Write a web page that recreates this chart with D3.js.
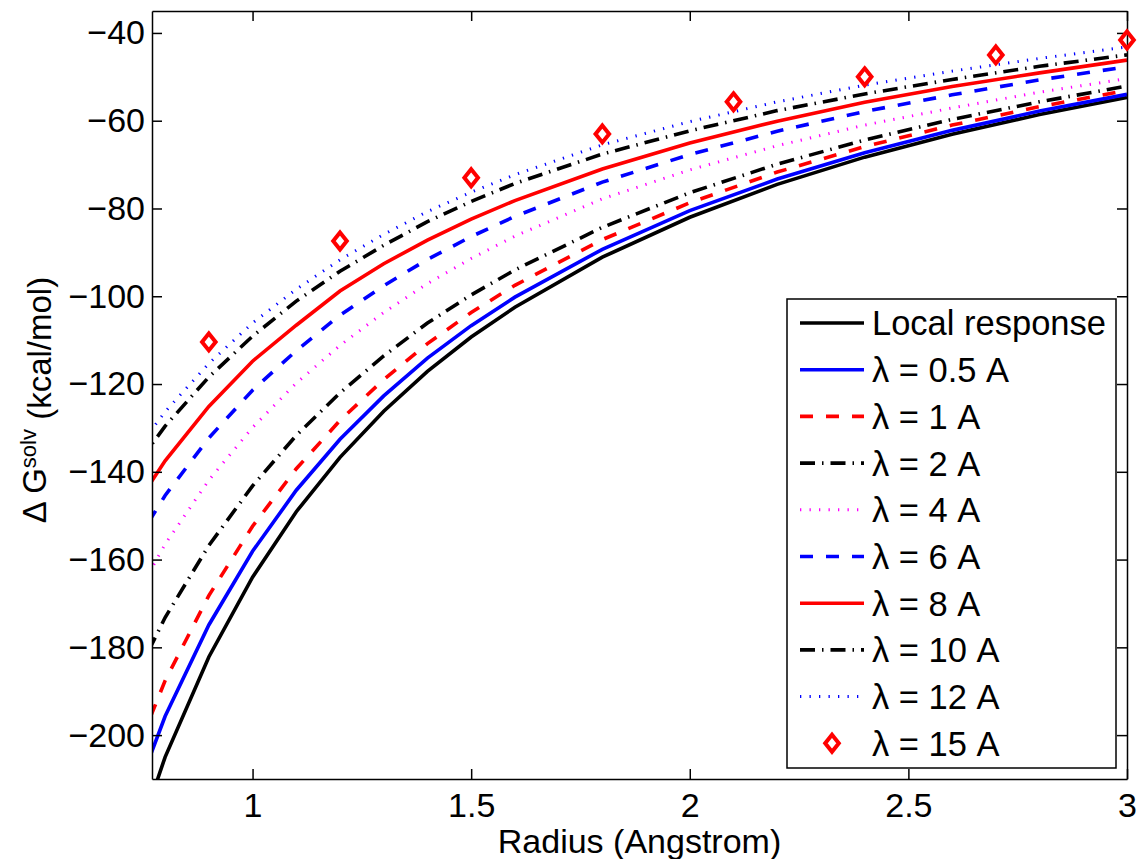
<!DOCTYPE html>
<html>
<head>
<meta charset="utf-8">
<script src="https://cdn.jsdelivr.net/npm/d3@7"></script>
<style>
  body { margin: 0; background: #fff; }
  text { font-family: "Liberation Sans", Arial, sans-serif; fill: #000; }
</style>
</head>
<body>
<div id="chart"></div>
<script>
let width = 1139;
let height = 859;
let plot = { left: 152, right: 1127, top: 11, bottom: 779 };

// radius grid used by all curves (Angstrom)
let radius = [0.7, 0.8, 0.9, 1.0, 1.1, 1.2, 1.3, 1.4, 1.5, 1.6, 1.8, 2.0, 2.2, 2.4, 2.6, 2.8, 3.0];

// solvation free energy, kcal/mol
let localResponse = [-234.3, -205.0, -182.2, -164.0, -149.1, -136.7, -126.2, -117.1, -109.3, -102.5, -91.1, -82.0, -74.5, -68.3, -63.1, -58.6, -54.7];
let lambda05 = [-222.2, -195.7, -174.9, -158.1, -144.2, -132.6, -122.7, -114.1, -106.7, -100.2, -89.3, -80.5, -73.3, -67.3, -62.2, -57.8, -54.0];
let lambda1 = [-212.2, -187.6, -168.2, -152.4, -139.3, -128.3, -119.0, -110.8, -103.7, -97.5, -87.1, -78.7, -71.7, -65.9, -61.0, -56.8, -53.1];
let lambda2 = [-193.3, -173.2, -156.8, -143.2, -131.7, -122.0, -113.6, -106.1, -99.7, -94.0, -84.3, -76.4, -69.9, -64.4, -59.7, -55.7, -52.1];
let lambda4 = [-174.4, -156.5, -141.9, -129.9, -119.8, -111.2, -103.7, -97.1, -91.4, -86.3, -77.8, -71.2, -65.7, -61.0, -57.1, -53.5, -50.4];
let lambda6 = [-161.5, -145.4, -132.3, -121.4, -112.4, -104.3, -97.6, -91.6, -86.4, -81.8, -74.0, -67.7, -62.4, -57.9, -54.1, -50.7, -47.7];
let lambda8 = [-152.7, -137.5, -125.1, -114.8, -106.6, -98.8, -92.6, -87.2, -82.4, -78.2, -71.0, -65.1, -60.1, -55.8, -52.2, -49.1, -46.2];
let lambda10 = [-143.2, -129.6, -118.4, -109.1, -101.1, -94.3, -88.4, -83.0, -78.4, -74.3, -67.6, -62.3, -57.7, -53.9, -50.6, -47.6, -45.0];
let lambda12 = [-139.6, -126.3, -115.3, -106.1, -98.4, -91.7, -85.9, -80.7, -76.3, -72.3, -65.5, -60.2, -55.7, -51.9, -48.7, -45.8, -43.2];

// lambda = 15 A only shown as markers
let radius15 = [0.9, 1.2, 1.5, 1.8, 2.1, 2.4, 2.7, 3.0];
let lambda15 = [-110.4, -87.4, -73.0, -63.0, -55.7, -50.0, -45.0, -41.6];

let xTicks = [1, 1.5, 2, 2.5, 3];
let yTicks = [-200, -180, -160, -140, -120, -100, -80, -60, -40];

let series = [
  { label: "Local response", values: localResponse, color: "#000000", dash: null, w: 3.6 },
  { label: "λ = 0.5 A", values: lambda05, color: "#0000ff", dash: null, w: 3.6 },
  { label: "λ = 1 A", values: lambda1, color: "#ff0000", dash: "13,13", w: 3.6 },
  { label: "λ = 2 A", values: lambda2, color: "#000000", dash: "15,7,1.5,7", w: 3.6 },
  { label: "λ = 4 A", values: lambda4, color: "#ff00ff", dash: "1.3,8.2", w: 3 },
  { label: "λ = 6 A", values: lambda6, color: "#0000ff", dash: "13,13", w: 3.6 },
  { label: "λ = 8 A", values: lambda8, color: "#ff0000", dash: null, w: 3.6 },
  { label: "λ = 10 A", values: lambda10, color: "#000000", dash: "15,7,1.5,7", w: 3.6 },
  { label: "λ = 12 A", values: lambda12, color: "#0000ff", dash: "1.3,8.2", w: 3 }
];

let x = d3.scaleLinear().domain([0.77, 3]).range([plot.left, plot.right]);
let y = d3.scaleLinear().domain([-210, -35]).range([plot.bottom, plot.top]);

let svg = d3.select("#chart")
  .append("svg")
  .attr("width", width)
  .attr("height", height);

svg.append("defs").append("clipPath")
  .attr("id", "clip")
  .append("rect")
  .attr("x", plot.left)
  .attr("y", plot.top)
  .attr("width", plot.right - plot.left)
  .attr("height", plot.bottom - plot.top);

// curves
let line = d3.line()
  .x(function(d) { return x(d[0]); })
  .y(function(d) { return y(d[1]); });

let curves = svg.append("g").attr("clip-path", "url(#clip)");
series.forEach(function(s) {
  curves.append("path")
    .datum(radius.map(function(r, i) { return [r, s.values[i]]; }))
    .attr("fill", "none")
    .attr("stroke", s.color)
    .attr("stroke-width", s.w)
    .attr("stroke-dasharray", s.dash)
    .attr("d", line);
});

// axes box, ticks pointing inward like matlab
let fmt = d3.format("");
svg.append("g")
  .attr("transform", "translate(0," + plot.bottom + ")")
  .call(d3.axisBottom(x).tickValues(xTicks).tickFormat(fmt).tickSizeInner(-10).tickSizeOuter(0).tickPadding(14));
svg.append("g")
  .attr("transform", "translate(0," + plot.top + ")")
  .call(d3.axisTop(x).tickValues(xTicks).tickFormat("").tickSizeInner(-10).tickSizeOuter(0));
svg.append("g")
  .attr("transform", "translate(" + plot.left + ",0)")
  .call(d3.axisLeft(y).tickValues(yTicks).tickFormat(fmt).tickSizeInner(-10).tickSizeOuter(0).tickPadding(7));
svg.append("g")
  .attr("transform", "translate(" + plot.right + ",0)")
  .call(d3.axisRight(y).tickValues(yTicks).tickFormat("").tickSizeInner(-10).tickSizeOuter(0));

svg.selectAll(".tick text")
  .style("font-size", "34px")
  .style("font-family", "'Liberation Sans', Arial, sans-serif");
svg.selectAll(".domain, .tick line").attr("stroke", "#000").attr("stroke-width", 1.5);

// lambda = 15 markers (not clipped)
let diamond = "M0,-8.5L6.8,0L0,8.5L-6.8,0Z";
svg.append("g")
  .selectAll("path")
  .data(radius15.map(function(r, i) { return [r, lambda15[i]]; }))
  .enter()
  .append("path")
  .attr("d", diamond)
  .attr("transform", function(d) { return "translate(" + x(d[0]) + "," + y(d[1]) + ")"; })
  .attr("fill", "none")
  .attr("stroke", "#ff0000")
  .attr("stroke-width", 4);

// axis labels
svg.append("text")
  .attr("x", (plot.left + plot.right) / 2)
  .attr("y", 853)
  .attr("text-anchor", "middle")
  .style("font-size", "34px")
  .text("Radius (Angstrom)");

let ylab = svg.append("text")
  .attr("transform", "translate(46,400) rotate(-90)")
  .attr("text-anchor", "middle")
  .style("font-size", "33px");
ylab.append("tspan").text("Δ G");
ylab.append("tspan").attr("dy", "-0.45em").style("font-size", "22px").text("solv");
ylab.append("tspan").attr("dy", "0.45em").text(" (kcal/mol)");

// legend
let legend = svg.append("g");
legend.append("rect")
  .attr("x", 787).attr("y", 299)
  .attr("width", 329).attr("height", 469)
  .attr("fill", "#fff")
  .attr("stroke", "#000")
  .attr("stroke-width", 1.5);

let rowY = function(i) { return 323 + i * 46.7; };
series.forEach(function(s, i) {
  legend.append("line")
    .attr("x1", 800).attr("x2", 864)
    .attr("y1", rowY(i)).attr("y2", rowY(i))
    .attr("stroke", s.color)
    .attr("stroke-width", s.w)
    .attr("stroke-dasharray", s.dash);
  legend.append("text")
    .attr("x", 872).attr("y", rowY(i))
    .attr("dy", "0.36em")
    .style("font-size", "34.5px")
    .text(s.label);
});
legend.append("path")
  .attr("d", diamond)
  .attr("transform", "translate(832," + rowY(9) + ")")
  .attr("fill", "none")
  .attr("stroke", "#ff0000")
  .attr("stroke-width", 4);
legend.append("text")
  .attr("x", 872).attr("y", rowY(9))
  .attr("dy", "0.36em")
  .style("font-size", "34.5px")
  .text("λ = 15 A");
</script>
</body>
</html>
